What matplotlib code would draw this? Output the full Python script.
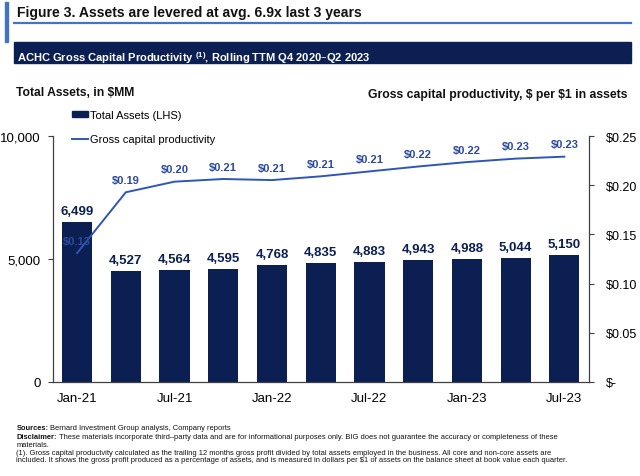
import matplotlib.pyplot as plt
from matplotlib.patches import Rectangle
from matplotlib.lines import Line2D
from matplotlib.ticker import FuncFormatter

# quarterly data, Q4 2020 .. Q2 2023
quarters = ['Jan-21', 'Apr-21', 'Jul-21', 'Oct-21', 'Jan-22', 'Apr-22',
            'Jul-22', 'Oct-22', 'Jan-23', 'Apr-23', 'Jul-23']
total_assets = [6499, 4527, 4564, 4595, 4768, 4835, 4883, 4943, 4988, 5044, 5150]
productivity = [0.131, 0.1928, 0.2036, 0.2063, 0.2052, 0.2090, 0.2140,
                0.2190, 0.2235, 0.2270, 0.2290]
prod_labels = ['$0.13', '$0.19', '$0.20', '$0.21', '$0.21', '$0.21', '$0.21',
               '$0.22', '$0.22', '$0.23', '$0.23']
xtick_labels = ['Jan-21', 'Jul-21', 'Jan-22', 'Jul-22', 'Jan-23', 'Jul-23']

NAVY = '#0b1f52'
ACCENT = '#4472c4'
LINE = '#2f55b8'
LBL = '#2b4a9c'
SPINE = '#404040'

plt.rcParams['font.family'] = ['Liberation Sans', 'DejaVu Sans']
plt.rcParams['mathtext.default'] = 'regular'

W, H = 640, 477
fig = plt.figure(figsize=(6.4, 4.77), dpi=100)
renderer = fig.canvas.get_renderer()


def fx(px):
    return px / W


def fy(py):
    return 1 - py / H


def fit(t, width_px):
    # shrink/grow a text so it spans the same width as in the original (condensed font there)
    bb = t.get_window_extent(renderer)
    t.set_fontsize(t.get_fontsize() * width_px / bb.width)
    return t


# header decorations
fig.patches.append(Rectangle((fx(5), fy(43)), fx(3.3), 40 / H, transform=fig.transFigure,
                             color=ACCENT, zorder=0))
fig.add_artist(Line2D([fx(14), fx(631)], [fy(23.5), fy(23.5)], color=ACCENT, lw=1.6))
fig.patches.append(Rectangle((fx(14), fy(64)), fx(617), 20.7 / H, transform=fig.transFigure,
                             color=NAVY, zorder=0))

fit(fig.text(fx(17), fy(13), 'Figure 3. Assets are levered at avg. 6.9x last 3 years',
             fontsize=12, fontweight='bold', color='#111111', va='center'), 344)
fit(fig.text(fx(17), fy(58.5), 'ACHC Gross Capital Productivity $^{(1)}$, Rolling TTM Q4 2020\u2013Q2 2023',
             fontsize=9.5, fontweight='bold', color='white', va='center'), 354)
fit(fig.text(fx(16), fy(92.5), 'Total Assets, in \\$MM', fontsize=10,
             fontweight='bold', color='#111111', va='center'), 118)
fit(fig.text(fx(628), fy(95), 'Gross capital productivity, \\$ per \\$1 in assets',
             fontsize=10, fontweight='bold', color='#111111', va='center', ha='right'), 259)

# main axes
ax = fig.add_axes([fx(52.7), fy(383), fx(588.7 - 52.7), (383 - 137) / H])
x = list(range(len(quarters)))
ax.bar(x, total_assets, width=0.62, color=NAVY, zorder=2)
for xi, v in zip(x, total_assets):
    ax.annotate(f'{v:,}', (xi, v), xytext=(0, 8), textcoords='offset points',
                ha='center', va='center', fontsize=9.5, fontweight='bold', color=NAVY)
ax.set_xlim(-0.5, 10.5)
ax.set_ylim(0, 10000)
ax.set_yticks([0, 5000, 10000])
ax.yaxis.set_major_formatter(FuncFormatter(lambda v, p: f'{v:,.0f}'))
ax.set_xticks(x[::2])
ax.set_xticklabels(xtick_labels)
ax.tick_params(axis='y', length=3.5, width=0.8, color=SPINE, pad=5, labelsize=9.5)
ax.tick_params(axis='x', length=0, pad=7, labelsize=9.5)
for s in ['top', 'right']:
    ax.spines[s].set_visible(False)
for s in ['left', 'bottom']:
    ax.spines[s].set_color(SPINE)
    ax.spines[s].set_linewidth(0.9)

ax2 = ax.twinx()
ax2.plot(x, productivity, color=LINE, lw=1.4, zorder=3)
for xi, v, t in zip(x, productivity, prod_labels):
    ax2.annotate(t, (xi, v), xytext=(0, 9), textcoords='offset points',
                 ha='center', va='center', fontsize=8, fontweight='bold', color=LBL)
ax2.set_ylim(0, 0.25)
ax2.set_yticks([0, 0.05, 0.10, 0.15, 0.20, 0.25])
ax2.yaxis.set_major_formatter(FuncFormatter(lambda v, p: '\\$-' if v == 0 else f'\\${v:.2f}'))
ax2.tick_params(axis='y', length=3.5, width=0.8, color=SPINE, pad=9, labelsize=9)
for s in ['top', 'left', 'bottom']:
    ax2.spines[s].set_visible(False)
ax2.spines['right'].set_color(SPINE)
ax2.spines['right'].set_linewidth(0.9)

handles = [Rectangle((0, 0), 1, 1, color=NAVY),
           Line2D([0], [0], color=LINE, lw=1.4)]
fig.legend(handles, ['Total Assets (LHS)', 'Gross capital productivity'],
           loc='upper left', bbox_to_anchor=(fx(72), fy(111)), frameon=False,
           fontsize=8, handlelength=1.45, handleheight=0.55, handletextpad=0.2,
           labelspacing=1.3, borderpad=0, borderaxespad=0)

# footer
foot = [
    (428.3, 'Sources:', 'Bernard Investment Group analysis, Company reports'),
    (438.0, 'Disclaimer:', 'These materials incorporate third\u2013party data and are for informational '
                           'purposes only. BIG does not guarantee the accuracy or completeness of these'),
    (445.7, '', 'materials.'),
    (453.3, '', '(1). Gross capital productvity calculated as the trailing 12 months gross profit divided '
                'by total assets employed in the business. All core and non-core assets are'),
    (461.0, '', 'included. It shows the gross profit produced as a percentage of assets, and is measured '
                'in dollars per \\$1 of assets on the balance sheet at book value each quarter.'),
]
probe = fit(fig.text(0, 0, foot[-1][2], fontsize=5), 556)
fs = probe.get_fontsize()
probe.remove()
for yy, bold, rest in foot:
    x0 = fx(16.5)
    if bold:
        t = fig.text(x0, fy(yy), bold, fontsize=fs, fontweight='bold',
                     va='center', color='#111111')
        x0 = t.get_window_extent(renderer).x1 / W + fx(1.5)
    fig.text(x0, fy(yy), rest, fontsize=fs, va='center', color='#111111')

fig.savefig('out.png', dpi=100)
